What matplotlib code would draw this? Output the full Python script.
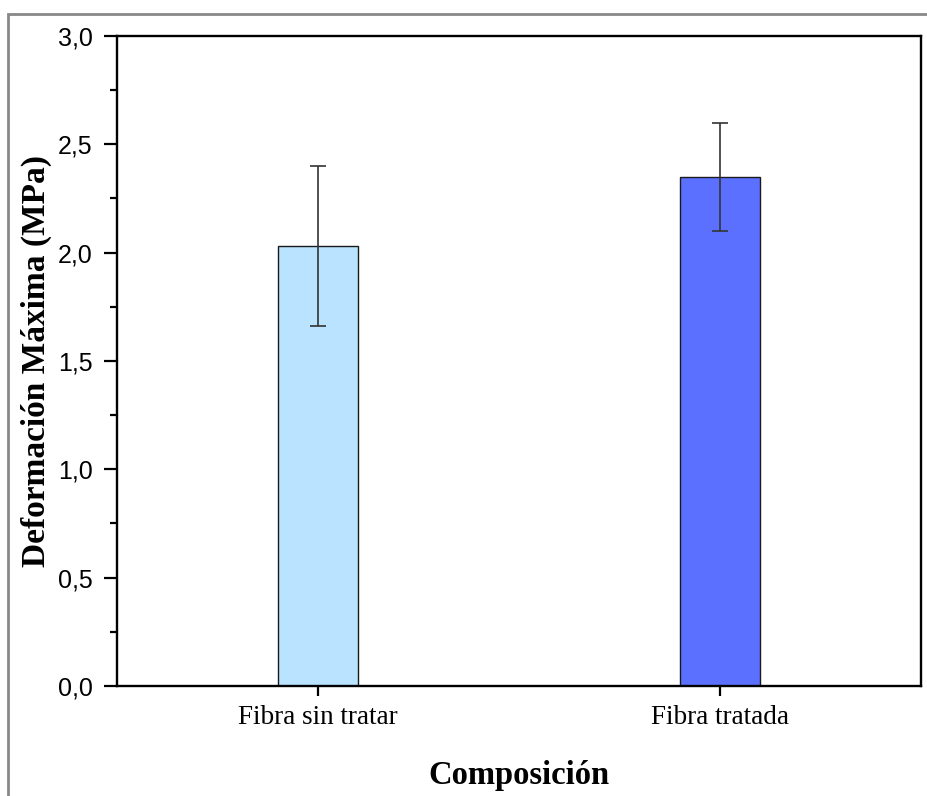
import matplotlib
matplotlib.use("Agg")
import matplotlib.pyplot as plt
from matplotlib.patches import Rectangle
from matplotlib.ticker import MultipleLocator, FuncFormatter

categories = ["Fibra sin tratar", "Fibra tratada"]
values = [2.03, 2.35]
errors = [0.37, 0.25]
colors = ["#B9E3FE", "#5C70FF"]

fig = plt.figure(figsize=(9.27, 7.96), dpi=100)
ax = fig.add_axes([0.1262, 0.1382, 0.9935 - 0.1262, 0.9548 - 0.1382])

x = [1, 2]
ax.bar(x, values, width=0.2, color=colors, edgecolor="#1a1a1a", linewidth=1.0, zorder=2)
ax.errorbar(x, values, yerr=errors, fmt="none", ecolor="#333333", elinewidth=1.2,
            capsize=6, capthick=1.2, zorder=3)

ax.set_xlim(0.5, 2.5)
ax.set_ylim(0, 3.0)
ax.set_xticks(x)
ax.set_xticklabels(categories, fontfamily="Liberation Serif", fontsize=19.5)
ax.yaxis.set_major_locator(MultipleLocator(0.5))
ax.yaxis.set_minor_locator(MultipleLocator(0.25))
ax.yaxis.set_major_formatter(FuncFormatter(lambda v, p: f"{v:.1f}".replace(".", ",")))
for lab in ax.get_yticklabels():
    lab.set_fontfamily("Liberation Sans")
    lab.set_fontsize(18)

ax.tick_params(axis="y", which="major", direction="out", length=9.5, width=1.6, pad=8)
ax.tick_params(axis="y", which="minor", direction="out", length=5, width=1.6)
ax.tick_params(axis="x", which="major", direction="out", length=7.5, width=1.6, pad=6)
for s in ax.spines.values():
    s.set_linewidth(1.7)

ax.set_ylabel("Deformación Máxima (MPa)", fontfamily="Liberation Serif", fontweight="bold",
              fontsize=24, labelpad=4.5)
ax.set_xlabel("Composición", fontfamily="Liberation Serif", fontweight="bold",
              fontsize=23.5, labelpad=22)

fig.patches.append(Rectangle((8 / 927, -0.1), 1.2, 1 - 14 / 796 + 0.1, transform=fig.transFigure,
                             fill=False, edgecolor="#888888", linewidth=2))

fig.savefig("out.png", dpi=100)
